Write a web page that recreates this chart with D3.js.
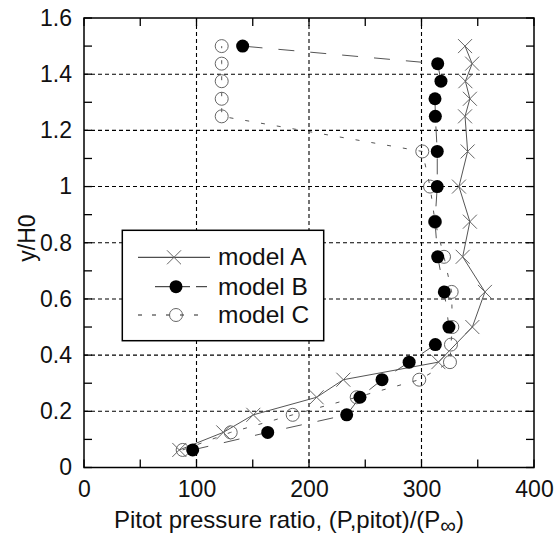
<!DOCTYPE html>
<html><head><meta charset="utf-8">
<script src="https://cdn.jsdelivr.net/npm/d3@7"></script>
<style>body{margin:0;background:#fff}</style>
</head><body>
<svg id="c" width="556" height="545"></svg>
<script>
// ---- data ----
const yA = [0.0625,0.125,0.1875,0.25,0.3125,0.375,0.5,0.625,0.75,0.875,1.0,1.125,1.25,1.3125,1.375,1.4375,1.5];
const xA = [84.7,123.8,150.5,206.8,230.5,315,345.2,356.4,336.6,343,333.3,341,338.7,343,339,345,338.7];
const yB = [0.0625,0.125,0.1875,0.25,0.3125,0.375,0.4375,0.5,0.625,0.75,0.875,1.0,1.125,1.25,1.3125,1.375,1.4375,1.5];
const xB = [96.6,163.3,233.5,245.3,264.9,289,312.3,324.4,320.3,314.4,312,314,314,312.3,312,317.3,314.4,141];
const yC = [0.0625,0.125,0.1875,0.25,0.3125,0.375,0.4375,0.5,0.625,0.75,0.875,1.0,1.125,1.25,1.3125,1.375,1.4375,1.5];
const xC = [87.7,130.4,185.5,242.4,298,325.3,326.2,327.4,326.8,320,312,307.6,300.7,122.4,122.4,122.4,122.4,122.4];
const seriesNames = ["model A","model B","model C"];
const xTickLabels = [0,100,200,300,400];
const yTickLabels = [0,0.2,0.4,0.6,0.8,1,1.2,1.4,1.6];
const xLabel = "Pitot pressure ratio, (P,pitot)/(P";
const yLabel = "y/H0";

// ---- layout ----
const L=84, R=534, T=18, B=467.5;
const font = "'Liberation Sans', Arial, sans-serif";
const svg = d3.select("#c");
const x = d3.scaleLinear().domain([0,400]).range([L,R]);
const y = d3.scaleLinear().domain([0,1.6]).range([B,T]);

// grid
const grid = svg.append("g").attr("stroke","#000").attr("stroke-width",1.1).attr("stroke-dasharray","4,3");
grid.selectAll(".gx").data([100,200,300]).join("line")
  .attr("x1",d=>x(d)).attr("x2",d=>x(d)).attr("y1",T).attr("y2",B);
grid.selectAll(".gy").data([0.2,0.4,0.6,0.8,1,1.2,1.4]).join("line")
  .attr("y1",d=>y(d)).attr("y2",d=>y(d)).attr("x1",L).attr("x2",R);

// inward ticks on all sides
const xt = d3.range(0,401,50), yt = d3.range(0,17).map(i=>i/10);
const tk = svg.append("g").attr("stroke","#000").attr("stroke-width",1.3);
xt.forEach(v=>{
  tk.append("line").attr("x1",x(v)).attr("x2",x(v)).attr("y1",B).attr("y2",B-8);
  tk.append("line").attr("x1",x(v)).attr("x2",x(v)).attr("y1",T).attr("y2",T+8);
});
yt.forEach(v=>{
  tk.append("line").attr("y1",y(v)).attr("y2",y(v)).attr("x1",L).attr("x2",L+8);
  tk.append("line").attr("y1",y(v)).attr("y2",y(v)).attr("x1",R).attr("x2",R-8);
});

// tick labels via d3 axes
const ax = svg.append("g").attr("transform",`translate(0,${B})`)
  .call(d3.axisBottom(x).tickValues(xTickLabels).tickSize(0).tickPadding(13).tickFormat(d3.format("d")));
ax.select(".domain").remove();
ax.selectAll("text").attr("font-family",font).attr("font-size",23).attr("fill","#111");
const ay = svg.append("g").attr("transform",`translate(${L},0)`)
  .call(d3.axisLeft(y).tickValues(yTickLabels).tickSize(0).tickPadding(12).tickFormat(d3.format("~g")));
ay.select(".domain").remove();
ay.selectAll("text").attr("font-family",font).attr("font-size",23).attr("fill","#111");

// frame
svg.append("rect").attr("x",L).attr("y",T).attr("width",R-L).attr("height",B-T)
  .attr("fill","none").attr("stroke","#000").attr("stroke-width",1.5);

// series
const line = d3.line().x(d=>x(d[0])).y(d=>y(d[1]));
const dA = xA.map((v,i)=>[v,yA[i]]), dB = xB.map((v,i)=>[v,yB[i]]), dC = xC.map((v,i)=>[v,yC[i]]);
svg.append("path").datum(dA).attr("d",line).attr("fill","none").attr("stroke","#555").attr("stroke-width",1);
svg.append("path").datum(dB).attr("d",line).attr("fill","none").attr("stroke","#555").attr("stroke-width",1).attr("stroke-dasharray","16,16");
svg.append("path").datum(dC).attr("d",line).attr("fill","none").attr("stroke","#555").attr("stroke-width",1).attr("stroke-dasharray","4,12");

function cross(g, cx, cy){
  g.append("path").attr("d",`M${cx-7},${cy-7}L${cx+7},${cy+7}M${cx-7},${cy+7}L${cx+7},${cy-7}`)
   .attr("stroke","#666").attr("stroke-width",1).attr("fill","none");
}
const mA = svg.append("g");
dA.forEach(d=>cross(mA,x(d[0]),y(d[1])));
svg.append("g").selectAll("circle").data(dC).join("circle")
  .attr("cx",d=>x(d[0])).attr("cy",d=>y(d[1])).attr("r",6.5)
  .attr("fill","none").attr("stroke","#666").attr("stroke-width",1);
svg.append("g").selectAll("circle").data(dB).join("circle")
  .attr("cx",d=>x(d[0])).attr("cy",d=>y(d[1])).attr("r",6.5).attr("fill","#000");

// legend
const lg = svg.append("g");
lg.append("rect").attr("x",122.3).attr("y",230.3).attr("width",201.4).attr("height",110.4)
  .attr("fill","#fff").attr("stroke","#000").attr("stroke-width",1.5);
const ly = [257.3,286.7,315];
lg.append("line").attr("x1",138).attr("x2",210).attr("y1",ly[0]).attr("y2",ly[0]).attr("stroke","#222");
cross(lg,174,ly[0]);
lg.append("line").attr("x1",155).attr("x2",207).attr("y1",ly[1]).attr("y2",ly[1]).attr("stroke","#222").attr("stroke-dasharray","35,6,20");
lg.append("circle").attr("cx",176).attr("cy",ly[1]).attr("r",6.5).attr("fill","#000");
lg.append("line").attr("x1",138).attr("x2",207).attr("y1",ly[2]).attr("y2",ly[2]).attr("stroke","#222").attr("stroke-dasharray","4,10");
lg.append("circle").attr("cx",176).attr("cy",ly[2]).attr("r",6.5).attr("fill","none").attr("stroke","#666");
seriesNames.forEach((n,i)=>{
  lg.append("text").attr("x",218).attr("y",ly[i]+8).attr("font-family",font).attr("font-size",24.5).attr("fill","#111").text(n);
});

// axis titles
const xt2 = svg.append("text").attr("x",289).attr("y",528).attr("text-anchor","middle")
  .attr("font-family",font).attr("font-size",24).attr("fill","#111");
xt2.append("tspan").text(xLabel);
xt2.append("tspan").attr("font-size",22).attr("dy",5).text("∞");
xt2.append("tspan").attr("dy",-5).text(")");
svg.append("text").attr("transform","translate(35,238) rotate(-90)").attr("text-anchor","middle")
  .attr("font-family",font).attr("font-size",23).attr("fill","#111").text(yLabel);
</script>
</body></html>
